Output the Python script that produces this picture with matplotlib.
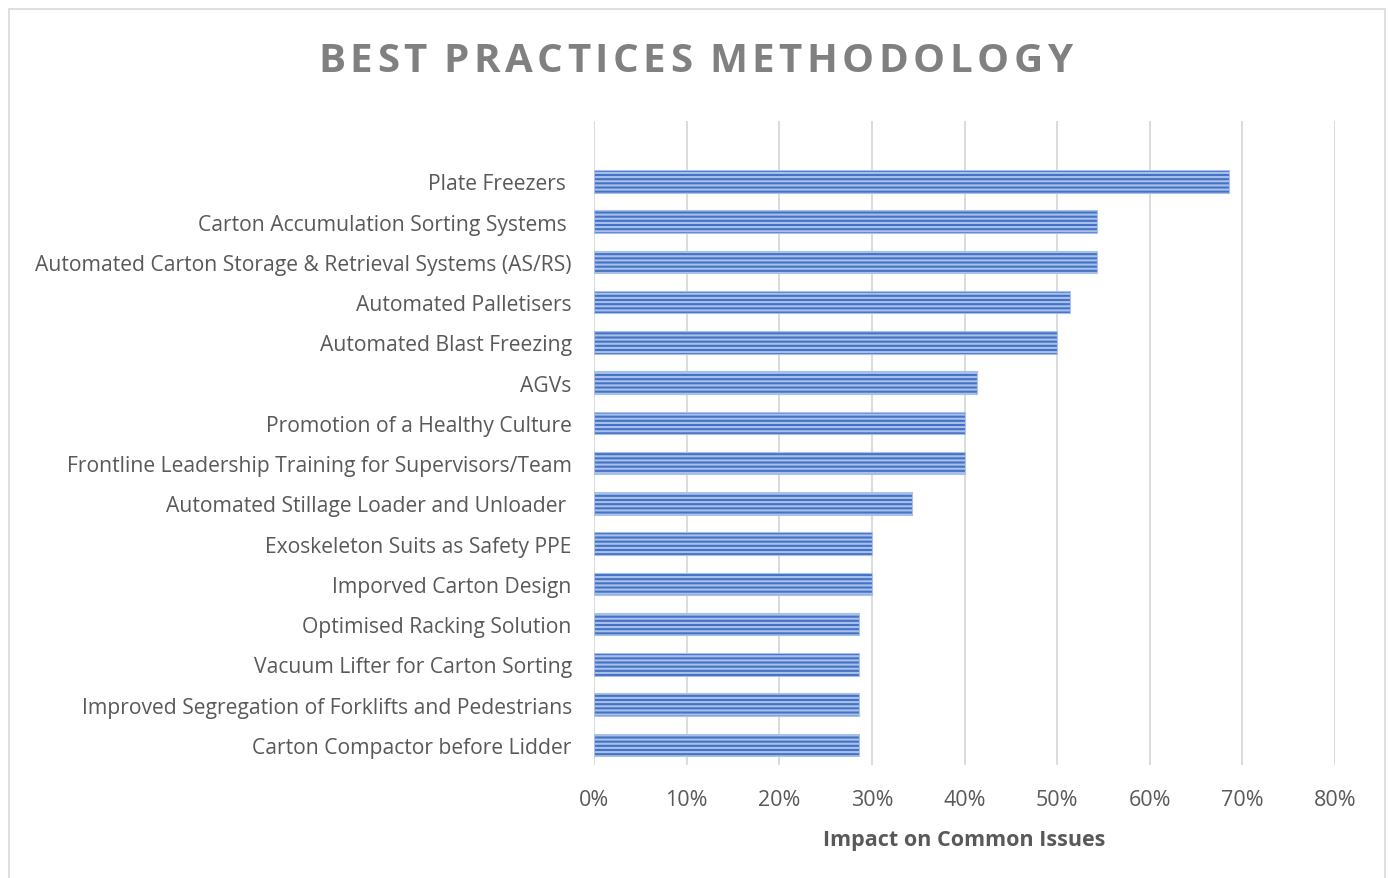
import matplotlib
matplotlib.use('Agg')
import matplotlib.pyplot as plt
from matplotlib.patches import Rectangle
from matplotlib.ticker import PercentFormatter

plt.rcParams['font.family'] = ['Open Sans', 'DejaVu Sans']
plt.rcParams['hatch.linewidth'] = 1.5

# categories listed top to bottom, as in the chart
practices = [
    'Plate Freezers ',
    'Carton Accumulation Sorting Systems ',
    'Automated Carton Storage & Retrieval Systems (AS/RS)',
    'Automated Palletisers',
    'Automated Blast Freezing',
    'AGVs',
    'Promotion of a Healthy Culture',
    'Frontline Leadership Training for Supervisors/Team',
    'Automated Stillage Loader and Unloader ',
    'Exoskeleton Suits as Safety PPE',
    'Imporved Carton Design',
    'Optimised Racking Solution',
    'Vacuum Lifter for Carton Sorting',
    'Improved Segregation of Forklifts and Pedestrians',
    'Carton Compactor before Lidder',
]
impact = [0.686, 0.543, 0.543, 0.514, 0.500, 0.414, 0.400, 0.400,
          0.343, 0.300, 0.300, 0.286, 0.286, 0.286, 0.286]
x_ticks = [0, 0.1, 0.2, 0.3, 0.4, 0.5, 0.6, 0.7, 0.8]
title = 'BEST PRACTICES METHODOLOGY'

grey = '#595959'
W, H = 1389, 879

fig = plt.figure(figsize=(W / 100, H / 100), dpi=100)
fig.patches.append(Rectangle((9 / W, -0.01), 1376 / W, 1 - 10 / H + 0.01,
                             transform=fig.transFigure, fill=False,
                             edgecolor='#D9D9D9', linewidth=1.2))

ax = fig.add_axes([594 / W, 1 - 766 / H, 741 / W, 644 / H])

pos = list(range(len(practices)))[::-1]
ax.barh(pos, impact, height=0.56, color='#4472C4', edgecolor='#A9C1EA',
        hatch='----', linewidth=0.8, zorder=3)

ax.set_xlim(0, 0.8)
ax.set_ylim(-0.5, 15.5)
ax.set_xticks(x_ticks)
ax.xaxis.set_major_formatter(PercentFormatter(1.0, decimals=0))
ax.set_yticks(pos)
ax.set_yticklabels(practices, fontsize=15.2)
ax.tick_params(axis='both', length=0, labelcolor=grey)
ax.tick_params(axis='x', labelsize=15.5, pad=17)
ax.tick_params(axis='y', pad=16)
ax.grid(axis='x', color='#D9D9D9', linewidth=1.3, zorder=0)
for s in ax.spines.values():
    s.set_visible(False)

ax.set_xlabel('Impact on Common Issues', fontsize=15.5, fontweight='bold',
              color=grey, labelpad=14)

# spaced-out title: place letters one by one to span x=318..1072 px
renderer = fig.canvas.get_renderer()
letters = []
widths = []
for ch in title:
    t = fig.text(0, 1 - 61 / H, ch if ch != ' ' else 'I', va='center', ha='left',
                 fontsize=29, fontweight='bold', color='#808080')
    w = t.get_window_extent(renderer).width
    if ch == ' ':
        t.set_text('')
        w *= 0.6
    letters.append(t)
    widths.append(w)
gap = (1072 - 318 - sum(widths)) / (len(title) - 1)
x = 318.0
for t, w in zip(letters, widths):
    t.set_x(x / W)
    x += w + gap

fig.savefig('out.png', dpi=100)
